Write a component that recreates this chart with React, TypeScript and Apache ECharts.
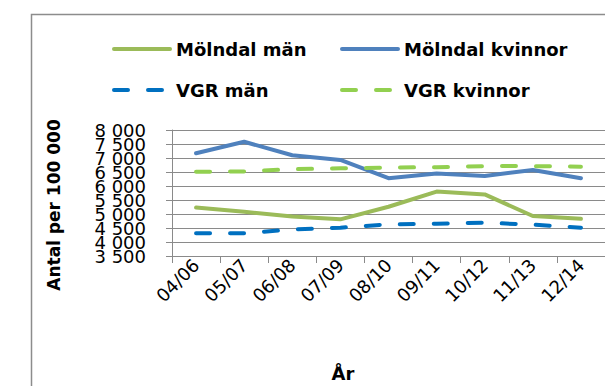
import React, { useEffect, useRef } from "react";
import * as echarts from "echarts";

const categories = ["04/06", "05/07", "06/08", "07/09", "08/10", "09/11", "10/12", "11/13", "12/14"];
const molndalMan = [5230, 5080, 4910, 4810, 5260, 5800, 5700, 4930, 4830];
const molndalKvinnor = [7170, 7580, 7100, 6930, 6280, 6450, 6360, 6570, 6280];
const vgrMan = [4310, 4310, 4450, 4510, 4630, 4650, 4690, 4620, 4510];
const vgrKvinnor = [6510, 6520, 6600, 6630, 6660, 6670, 6710, 6710, 6690];
const yMin = 3500;
const yMax = 8000;
const yStep = 500;

const FONT = "DejaVu Sans";
const GRID = "#8a8a8a";
const DASH = [14, 20];

const fmtThousands = (v: number) => {
  const s = String(v);
  return s.length > 3 ? s.slice(0, s.length - 3) + " " + s.slice(-3) : s;
};

export default function App() {
  const ref = useRef<HTMLDivElement>(null);
  useEffect(() => {
    if (!ref.current) return;
    const chart = echarts.init(ref.current, undefined, { renderer: "svg" });
    const legendBase = (name: string, left: number, top: number, dashed: boolean) => ({
      data: [name],
      left,
      top,
      itemWidth: 56,
      itemHeight: 14,
      itemGap: 0,
      padding: 0,
      textStyle: { fontFamily: FONT, fontSize: 18, fontWeight: "bold", color: "#000", padding: [0, 0, 0, 1] },
      lineStyle: { width: 4, cap: "round", type: dashed ? DASH : "solid" },
      itemStyle: { opacity: 0, borderWidth: 0, color: "rgba(0,0,0,0)", borderColor: "rgba(0,0,0,0)" },
      selectedMode: false,
    });
    const yLabelBase = {
      margin: 26,
      fontFamily: FONT,
      fontSize: 18,
      color: "#000",
      showMinLabel: true,
      showMaxLabel: true,
    };
    chart.setOption({
      animation: false,
      backgroundColor: "#fff",
      grid: { left: 172, right: 0, top: 130, bottom: 130, containLabel: false },
      legend: [
        legendBase("Mölndal män", 112, 40, false),
        legendBase("Mölndal kvinnor", 340, 40, false),
        legendBase("VGR män", 112, 81, true),
        legendBase("VGR kvinnor", 340, 81, true),
      ],
      xAxis: {
        type: "category",
        data: categories,
        boundaryGap: true,
        axisLine: { show: true, lineStyle: { color: GRID, width: 1 } },
        axisTick: { show: true, length: 7, lineStyle: { color: GRID } },
        axisLabel: { rotate: 45, margin: 6, fontFamily: FONT, fontSize: 18, color: "#000", interval: 0 },
        splitLine: { show: false },
      },
      yAxis: [
        {
          type: "value",
          min: yMin,
          max: yMax,
          interval: yStep,
          position: "left",
          axisLine: { show: true, lineStyle: { color: GRID, width: 1 } },
          axisTick: { show: true, length: 6, lineStyle: { color: GRID } },
          axisLabel: {
            ...yLabelBase,
            formatter: (v: number) => (v % 1000 === 0 ? fmtThousands(v) : ""),
          },
          splitLine: { show: true, lineStyle: { color: GRID, width: 1 } },
        },
        {
          type: "value",
          min: yMin,
          max: yMax,
          interval: yStep,
          position: "left",
          offset: 0,
          axisLine: { show: false },
          axisTick: { show: false },
          axisLabel: {
            ...yLabelBase,
            formatter: (v: number) => (v % 1000 !== 0 ? fmtThousands(v) : ""),
          },
          splitLine: { show: false },
        },
      ],
      series: [
        {
          name: "Mölndal män",
          type: "line",
          data: molndalMan,
          symbol: "none",
          color: "#9BBB59",
          lineStyle: { width: 4, color: "#9BBB59", cap: "round", join: "round" },
        },
        {
          name: "Mölndal kvinnor",
          type: "line",
          data: molndalKvinnor,
          symbol: "none",
          color: "#4F81BD",
          lineStyle: { width: 4, color: "#4F81BD", cap: "round", join: "round" },
        },
        {
          name: "VGR män",
          type: "line",
          data: vgrMan,
          symbol: "none",
          color: "#0070C0",
          lineStyle: { width: 4, color: "#0070C0", type: DASH, cap: "round", join: "round" },
        },
        {
          name: "VGR kvinnor",
          type: "line",
          data: vgrKvinnor,
          symbol: "none",
          color: "#92D050",
          lineStyle: { width: 4, color: "#92D050", type: DASH, cap: "round", join: "round" },
        },
      ],
      graphic: [
        {
          type: "rect",
          shape: { x: 31.5, y: 14.5, width: 700, height: 500 },
          style: { fill: "none", stroke: "#8c8c8c", lineWidth: 1.5 },
          silent: true,
        },
        {
          type: "text",
          x: 54,
          y: 205,
          rotation: Math.PI / 2,
          style: {
            text: "Antal per 100 000",
            fontFamily: FONT,
            fontSize: 17,
            fontWeight: "bold",
            fill: "#000",
            align: "center",
            verticalAlign: "middle",
          },
        },
        {
          type: "text",
          x: 343,
          y: 373,
          style: {
            text: "År",
            fontFamily: FONT,
            fontSize: 18,
            fontWeight: "bold",
            fill: "#000",
            align: "center",
            verticalAlign: "middle",
          },
        },
      ],
    });
    return () => chart.dispose();
  }, []);
  return (
    <div
      ref={ref}
      style={{ position: "absolute", left: 0, top: 0, width: 605, height: 386 }}
    />
  );
}
